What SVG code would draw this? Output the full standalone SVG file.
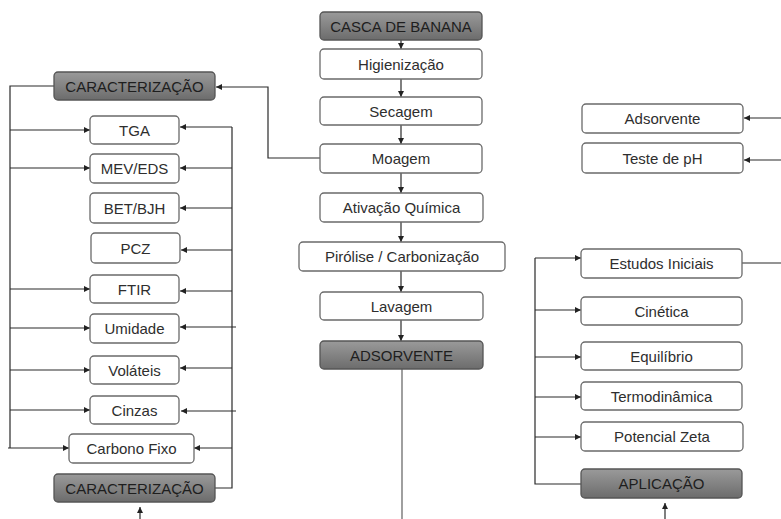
<svg xmlns="http://www.w3.org/2000/svg" width="781" height="519" viewBox="0 0 781 519">
<defs>
<linearGradient id="dark" x1="0" y1="0" x2="0" y2="1">
<stop offset="0" stop-color="#9a9a9a"/>
<stop offset="1" stop-color="#6c6c6c"/>
</linearGradient>
<marker id="ah" markerUnits="userSpaceOnUse" markerWidth="6" markerHeight="6" refX="6" refY="3" orient="auto">
<path d="M0,0 L6,3 L0,6 z" fill="#222"/>
</marker>
</defs>
<style>
.w rect{fill:#fff;stroke:#6a6a6a;stroke-width:1.3}
.d rect{fill:url(#dark);stroke:#555;stroke-width:1.3}
text{font-family:"Liberation Sans",Arial,sans-serif;font-size:15px;text-anchor:middle;dominant-baseline:central;fill:#2e2e2e}
.d text{fill:#1e1e1e}
.c line,.c polyline{fill:none;stroke:#2a2a2a;stroke-width:1.2}
.c .a{marker-end:url(#ah)}
</style>
<rect width="781" height="519" fill="#fff"/>
<g class="c" id="connectors">
<line class="a" x1="401" y1="40" x2="401" y2="49"/>
<line class="a" x1="401" y1="79" x2="401" y2="97"/>
<line class="a" x1="401" y1="125" x2="401" y2="144"/>
<line class="a" x1="401" y1="173" x2="401" y2="193"/>
<line class="a" x1="401" y1="222" x2="401" y2="242"/>
<line class="a" x1="401" y1="271" x2="401" y2="292"/>
<line class="a" x1="401" y1="320" x2="401" y2="341"/>
<line x1="402" y1="369" x2="402" y2="519" style="stroke:#888;stroke-width:1.6"/>
<polyline class="a" points="320,158 268,158 268,87 216,87"/>
<polyline points="54,86 10,86 10,448"/>
<line class="a" x1="10" y1="130" x2="90" y2="130"/>
<line class="a" x1="10" y1="168" x2="90" y2="168"/>
<line class="a" x1="10" y1="289" x2="90" y2="289"/>
<line class="a" x1="10" y1="328" x2="90" y2="328"/>
<line class="a" x1="10" y1="370" x2="90" y2="370"/>
<line class="a" x1="10" y1="410" x2="90" y2="410"/>
<line class="a" x1="8" y1="448" x2="69" y2="448"/>
<polyline points="232,127 232,488 215,488"/>
<line class="a" x1="232" y1="127" x2="180" y2="127"/>
<line class="a" x1="232" y1="168" x2="180" y2="168"/>
<line class="a" x1="232" y1="208" x2="180" y2="208"/>
<line class="a" x1="232" y1="250" x2="181" y2="250"/>
<line class="a" x1="232" y1="291" x2="180" y2="291"/>
<line class="a" x1="236" y1="327" x2="180" y2="327"/>
<line class="a" x1="232" y1="368" x2="180" y2="368"/>
<line class="a" x1="236" y1="411" x2="181" y2="411"/>
<line class="a" x1="232" y1="448" x2="194" y2="448"/>
<line class="a" x1="140" y1="519" x2="140" y2="507"/>
<line class="a" x1="781" y1="118" x2="744" y2="118"/>
<line class="a" x1="781" y1="160" x2="744" y2="160"/>
<line x1="742" y1="263" x2="781" y2="263"/>
<polyline points="535,258 535,484 581,484"/>
<line class="a" x1="535" y1="258" x2="581" y2="258"/>
<line class="a" x1="535" y1="310" x2="581" y2="310"/>
<line class="a" x1="535" y1="357" x2="581" y2="357"/>
<line class="a" x1="535" y1="397" x2="581" y2="397"/>
<line class="a" x1="535" y1="437" x2="581" y2="437"/>
<line class="a" x1="665" y1="519" x2="665" y2="503"/>
</g>
<g id="casca" class="d"><rect x="320" y="12" width="162" height="28" rx="4"/><text x="401" y="26">CASCA DE BANANA</text></g>
<g id="higienizacao" class="w"><rect x="320" y="49" width="162" height="30" rx="4"/><text x="401" y="64">Higienização</text></g>
<g id="secagem" class="w"><rect x="320" y="97" width="162" height="28" rx="4"/><text x="401" y="111">Secagem</text></g>
<g id="moagem" class="w"><rect x="320" y="144" width="162" height="29" rx="4"/><text x="401" y="158.5">Moagem</text></g>
<g id="ativacao" class="w"><rect x="320" y="193" width="163" height="29" rx="4"/><text x="401.5" y="207.5">Ativação Química</text></g>
<g id="pirolise" class="w"><rect x="299" y="242" width="206" height="29" rx="4"/><text x="402" y="256.5">Pirólise / Carbonização</text></g>
<g id="lavagem" class="w"><rect x="320" y="292" width="163" height="28" rx="4"/><text x="401.5" y="306">Lavagem</text></g>
<g id="adsorvente-c" class="d"><rect x="320" y="341" width="163" height="28" rx="4"/><text x="401.5" y="355">ADSORVENTE</text></g>
<g id="caract-top" class="d"><rect x="54" y="72" width="161" height="28" rx="4"/><text x="134.5" y="86">CARACTERIZAÇÃO</text></g>
<g id="tga" class="w"><rect x="90" y="116" width="89" height="28" rx="4"/><text x="134.5" y="130">TGA</text></g>
<g id="mev" class="w"><rect x="90" y="154" width="89" height="29" rx="4"/><text x="134.5" y="168.5">MEV/EDS</text></g>
<g id="bet" class="w"><rect x="90" y="193" width="89" height="30" rx="4"/><text x="134.5" y="208">BET/BJH</text></g>
<g id="pcz" class="w"><rect x="91" y="233" width="89" height="30" rx="4"/><text x="135.5" y="248">PCZ</text></g>
<g id="ftir" class="w"><rect x="90" y="275" width="89" height="28" rx="4"/><text x="134.5" y="289">FTIR</text></g>
<g id="umidade" class="w"><rect x="90" y="314" width="89" height="29" rx="4"/><text x="134.5" y="328.5">Umidade</text></g>
<g id="volateis" class="w"><rect x="90" y="356" width="89" height="28" rx="4"/><text x="134.5" y="370">Voláteis</text></g>
<g id="cinzas" class="w"><rect x="90" y="396" width="89" height="28" rx="4"/><text x="134.5" y="410">Cinzas</text></g>
<g id="carbono" class="w"><rect x="69" y="434" width="125" height="29" rx="4"/><text x="131.5" y="448.5">Carbono Fixo</text></g>
<g id="caract-bottom" class="d"><rect x="54" y="474" width="161" height="28" rx="4"/><text x="134.5" y="488">CARACTERIZAÇÃO</text></g>
<g id="adsorvente-r" class="w"><rect x="582" y="104" width="161" height="29" rx="4"/><text x="662.5" y="118.5">Adsorvente</text></g>
<g id="teste-ph" class="w"><rect x="582" y="143" width="161" height="30" rx="4"/><text x="662.5" y="158">Teste de pH</text></g>
<g id="estudos" class="w"><rect x="581" y="249" width="161" height="29" rx="4"/><text x="661.5" y="263.5">Estudos Iniciais</text></g>
<g id="cinetica" class="w"><rect x="581" y="297" width="161" height="28" rx="4"/><text x="661.5" y="311">Cinética</text></g>
<g id="equilibrio" class="w"><rect x="581" y="342" width="161" height="28" rx="4"/><text x="661.5" y="356">Equilíbrio</text></g>
<g id="termo" class="w"><rect x="581" y="382" width="161" height="28" rx="4"/><text x="661.5" y="396">Termodinâmica</text></g>
<g id="zeta" class="w"><rect x="581" y="422" width="162" height="29" rx="4"/><text x="662" y="436.5">Potencial Zeta</text></g>
<g id="aplicacao" class="d"><rect x="581" y="469" width="161" height="29" rx="4"/><text x="661.5" y="483.5">APLICAÇÃO</text></g>
</svg>
